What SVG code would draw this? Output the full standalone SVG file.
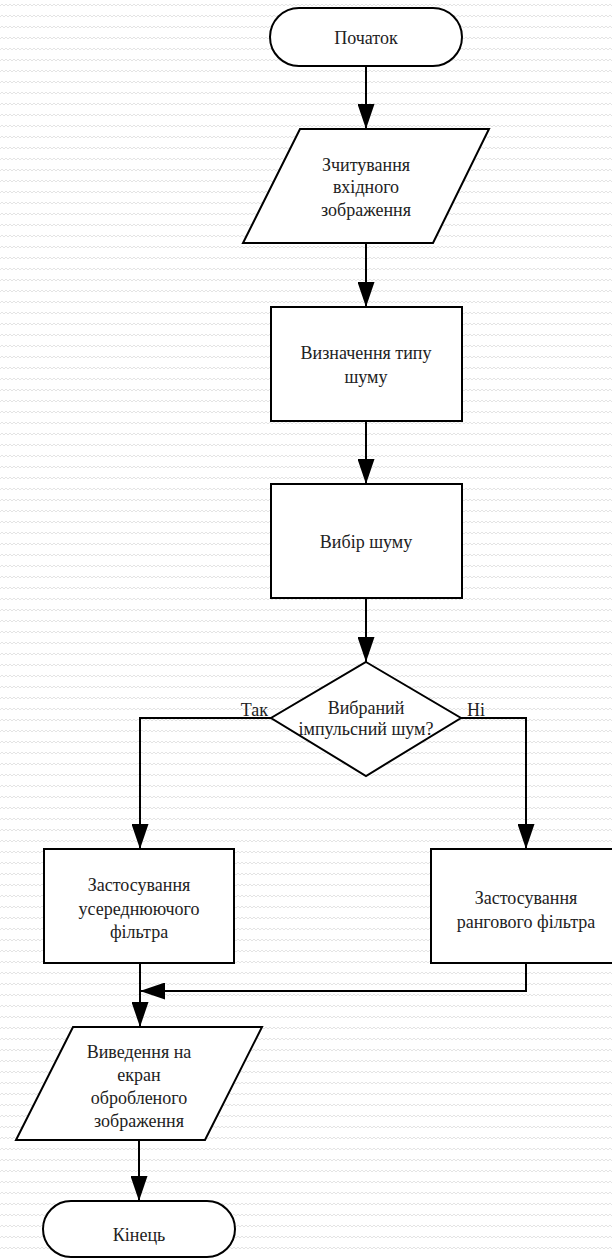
<svg xmlns="http://www.w3.org/2000/svg" width="612" height="1258" viewBox="0 0 612 1258">
<defs>
<pattern id="bg" width="8" height="11" patternUnits="userSpaceOnUse">
<path d="M0,6 L2,4 L4,6 L6,4 L8,6" fill="none" stroke="#e4e4e4" stroke-width="1"/>
</pattern>
<marker id="arr" viewBox="0 0 25 17" refX="25" refY="8.5" markerWidth="25" markerHeight="17" markerUnits="userSpaceOnUse" orient="auto">
<path d="M0,0 L25,8.5 L0,17 Z" fill="#000"/>
</marker>
</defs>
<style>
.s{fill:#fff;stroke:#000;stroke-width:2}
.c{fill:none;stroke:#000;stroke-width:2;marker-end:url(#arr)}
.t{font-family:"Liberation Serif","Times New Roman",serif;font-size:18px;fill:#222;text-anchor:middle}
.l{font-family:"Liberation Serif","Times New Roman",serif;font-size:18px;fill:#222}
</style>
<rect width="612" height="1258" fill="#fff"/>
<rect width="612" height="1258" fill="url(#bg)"/>
<g id="connectors">
<path class="c" d="M366,66 L366,129"/>
<path class="c" d="M366,243 L366,307"/>
<path class="c" d="M366,421 L366,484"/>
<path class="c" d="M366,598 L366,662"/>
<path class="c" d="M271,718 L140,718 L140,849"/>
<path class="c" d="M461,718 L526,718 L526,849"/>
<path class="c" d="M140,963 L140,1027"/>
<path class="c" d="M526,963 L526,991 L140,991"/>
<path class="c" d="M139,1140 L139,1201"/>
<text class="l" x="268" y="716" text-anchor="end">Так</text>
<text class="l" x="467" y="716">Ні</text>
</g>
<g id="start">
<rect class="s" x="270" y="8" width="192" height="58" rx="29" ry="29"/>
<text class="t" x="366" y="44">Початок</text>
</g>
<g id="read">
<polygon class="s" points="300,129 489,129 433,243 243,243"/>
<text class="t" x="366" y="171">Зчитування</text>
<text class="t" x="366" y="193">вхідного</text>
<text class="t" x="366" y="216">зображення</text>
</g>
<g id="detect">
<rect class="s" x="271" y="307" width="191" height="114"/>
<text class="t" x="366" y="359">Визначення типу</text>
<text class="t" x="366" y="383">шуму</text>
</g>
<g id="choose">
<rect class="s" x="271" y="484" width="191" height="114"/>
<text class="t" x="366" y="548">Вибір шуму</text>
</g>
<g id="decision">
<polygon class="s" points="366,662 461,718 366,776 271,718"/>
<text class="t" x="366" y="714">Вибраний</text>
<text class="t" x="366" y="735">імпульсний шум?</text>
</g>
<g id="mean">
<rect class="s" x="44" y="849" width="190" height="114"/>
<text class="t" x="139" y="891">Застосування</text>
<text class="t" x="139" y="915">усереднюючого</text>
<text class="t" x="139" y="938">фільтра</text>
</g>
<g id="rank">
<rect class="s" x="431" y="849" width="190" height="114"/>
<text class="t" x="526" y="904">Застосування</text>
<text class="t" x="526" y="928">рангового фільтра</text>
</g>
<g id="output">
<polygon class="s" points="73,1027 262,1027 205,1140 16,1140"/>
<text class="t" x="139" y="1058">Виведення на</text>
<text class="t" x="139" y="1081">екран</text>
<text class="t" x="139" y="1104">обробленого</text>
<text class="t" x="139" y="1127">зображення</text>
</g>
<g id="end">
<rect class="s" x="43" y="1201" width="192" height="56" rx="28" ry="28"/>
<text class="t" x="139" y="1241">Кінець</text>
</g>
</svg>
